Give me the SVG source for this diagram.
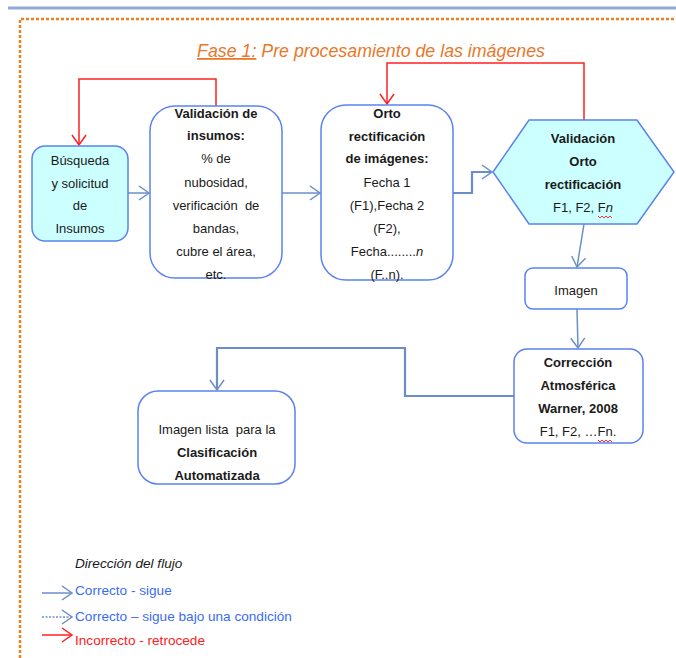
<svg xmlns="http://www.w3.org/2000/svg" width="676" height="658" viewBox="0 0 676 658">
<defs>
<style>
.t{font-family:"Liberation Sans",Arial,sans-serif;font-size:13px;fill:#1a1a1a;text-anchor:middle}
.b{font-weight:bold}
.node{stroke:#5b82ee;stroke-width:1.5}
.white{fill:#ffffff}
.cyan{fill:#ccffff}
.c{fill:none;stroke:#6a8fc8;stroke-width:1.5}
.c2{fill:none;stroke:#6a8fc8;stroke-width:2.2}
.r{fill:none;stroke:#ff2020;stroke-width:1.5}
.lg{font-family:"Liberation Sans",Arial,sans-serif;font-size:13.6px}
.sq{fill:none;stroke:#ff0000;stroke-width:0.8}
</style>
<marker id="ab" markerUnits="userSpaceOnUse" markerWidth="14" markerHeight="16" refX="11" refY="8" orient="auto" viewBox="0 0 14 16">
<path d="M1,1 L11,8 L1,15" fill="none" stroke="#6a8fc8" stroke-width="1.5"/>
</marker>
<marker id="ar" markerUnits="userSpaceOnUse" markerWidth="14" markerHeight="16" refX="11" refY="8" orient="auto" viewBox="0 0 14 16">
<path d="M1,1 L11,8 L1,15" fill="none" stroke="#ff2020" stroke-width="1.5"/>
</marker>
</defs>
<rect width="676" height="658" fill="#ffffff"/>
<line x1="8" y1="8" x2="676" y2="8" stroke="#8eaad3" stroke-width="3"/>
<path d="M20,658 L20,19 L676,19" fill="none" stroke="#ee7f22" stroke-width="2.5" stroke-dasharray="3,2"/>
<g id="title">
<text x="371" y="57" font-family="'Liberation Sans',Arial,sans-serif" font-size="17.8" font-style="italic" fill="#e8782a" text-anchor="middle"><tspan text-decoration="underline">Fase 1:</tspan> Pre procesamiento de las imágenes</text>
</g>
<g id="connectors">
<path class="r" d="M216,106 L216,79 L79,79 L79,145" marker-end="url(#ar)"/>
<path class="r" d="M584,120 L584,63 L387,63 L387,104" marker-end="url(#ar)"/>
<path class="c" d="M128,193 L149,193" marker-end="url(#ab)"/>
<path class="c" d="M282,193 L320,193" marker-end="url(#ab)"/>
<path class="c2" d="M453,193 L472,193 L472,172 L492,172" marker-end="url(#ab)"/>
<path class="c" d="M584,224 L577,267" marker-end="url(#ab)"/>
<path class="c" d="M577,309 L578,348" marker-end="url(#ab)"/>
<path class="c2" d="M514,396 L405,396 L405,348 L217,348 L217,390" marker-end="url(#ab)"/>
</g>
<g id="n1">
<rect class="node cyan" x="32" y="146" width="96" height="95" rx="13"/>
<text class="t" x="80" y="165">Búsqueda</text>
<text class="t" x="80" y="188">y solicitud</text>
<text class="t" x="80" y="210">de</text>
<text class="t" x="80" y="233">Insumos</text>
</g>
<g id="n2">
<rect class="node white" x="150" y="106" width="132" height="172" rx="25"/>
<text class="t b" x="216" y="118">Validación de</text>
<text class="t b" x="216" y="140">insumos:</text>
<text class="t" x="216" y="163">% de</text>
<text class="t" x="216" y="187">nubosidad,</text>
<text class="t" x="216" y="210" xml:space="preserve">verificación  de</text>
<text class="t" x="216" y="233">bandas,</text>
<text class="t" x="216" y="256">cubre el área,</text>
<text class="t" x="216" y="279">etc.</text>
</g>
<g id="n3">
<rect class="node white" x="321" y="105" width="132" height="175" rx="25"/>
<text class="t b" x="387" y="118">Orto</text>
<text class="t b" x="387" y="141">rectificación</text>
<text class="t b" x="387" y="163">de imágenes:</text>
<text class="t" x="387" y="187">Fecha 1</text>
<text class="t" x="387" y="210">(F1),Fecha 2</text>
<text class="t" x="387" y="233">(F2),</text>
<text class="t" x="387" y="256">Fecha........<tspan font-style="italic">n</tspan></text>
<text class="t" x="387" y="279">(F..n).</text>
</g>
<g id="n4">
<polygon class="node cyan" points="493,172 529,120 637,120 674,172 637,224 529,224"/>
<text class="t b" x="583" y="143">Validación</text>
<text class="t b" x="583" y="166">Orto</text>
<text class="t b" x="583" y="189">rectificación</text>
<text class="t" x="583" y="212">F1, F2, F<tspan font-style="italic">n</tspan></text>
<path class="sq" d="M598,216 l2,2 l2,-2 l2,2 l2,-2 l2,2 l2,-2 l2,2"/>
</g>
<g id="n5">
<rect class="node white" x="525" y="268" width="102" height="41" rx="8"/>
<text class="t" x="576" y="295">Imagen</text>
</g>
<g id="n6">
<rect class="node white" x="514" y="349" width="129" height="94" rx="13"/>
<text class="t b" x="578" y="367">Corrección</text>
<text class="t b" x="578" y="390">Atmosférica</text>
<text class="t b" x="578" y="413">Warner, 2008</text>
<text class="t" x="578" y="436">F1, F2, …Fn.</text>
<path class="sq" d="M598,440 l2,2 l2,-2 l2,2 l2,-2 l2,2 l2,-2 l2,2"/>
</g>
<g id="n7">
<rect class="node white" x="138" y="391" width="157" height="93" rx="20"/>
<text class="t" x="217" y="434" xml:space="preserve">Imagen lista  para la</text>
<text class="t b" x="217" y="457">Clasificación</text>
<text class="t b" x="217" y="480">Automatizada</text>
</g>
<g id="legend">
<text class="lg" x="75" y="568" font-style="italic" fill="#1a1a1a">Dirección del flujo</text>
<path class="c" d="M42,593 L72,593" marker-end="url(#ab)"/>
<text class="lg" x="75" y="595" fill="#3b6cf5">Correcto - sigue</text>
<path class="c" d="M42,617 L72,617" stroke-dasharray="2,1.5" marker-end="url(#ab)"/>
<text class="lg" x="75" y="621" fill="#3b6cf5">Correcto – sigue bajo una condición</text>
<path class="r" d="M42,635 L72,635" marker-end="url(#ar)"/>
<text class="lg" x="75" y="645" fill="#ff2020">Incorrecto - retrocede</text>
</g>
</svg>
